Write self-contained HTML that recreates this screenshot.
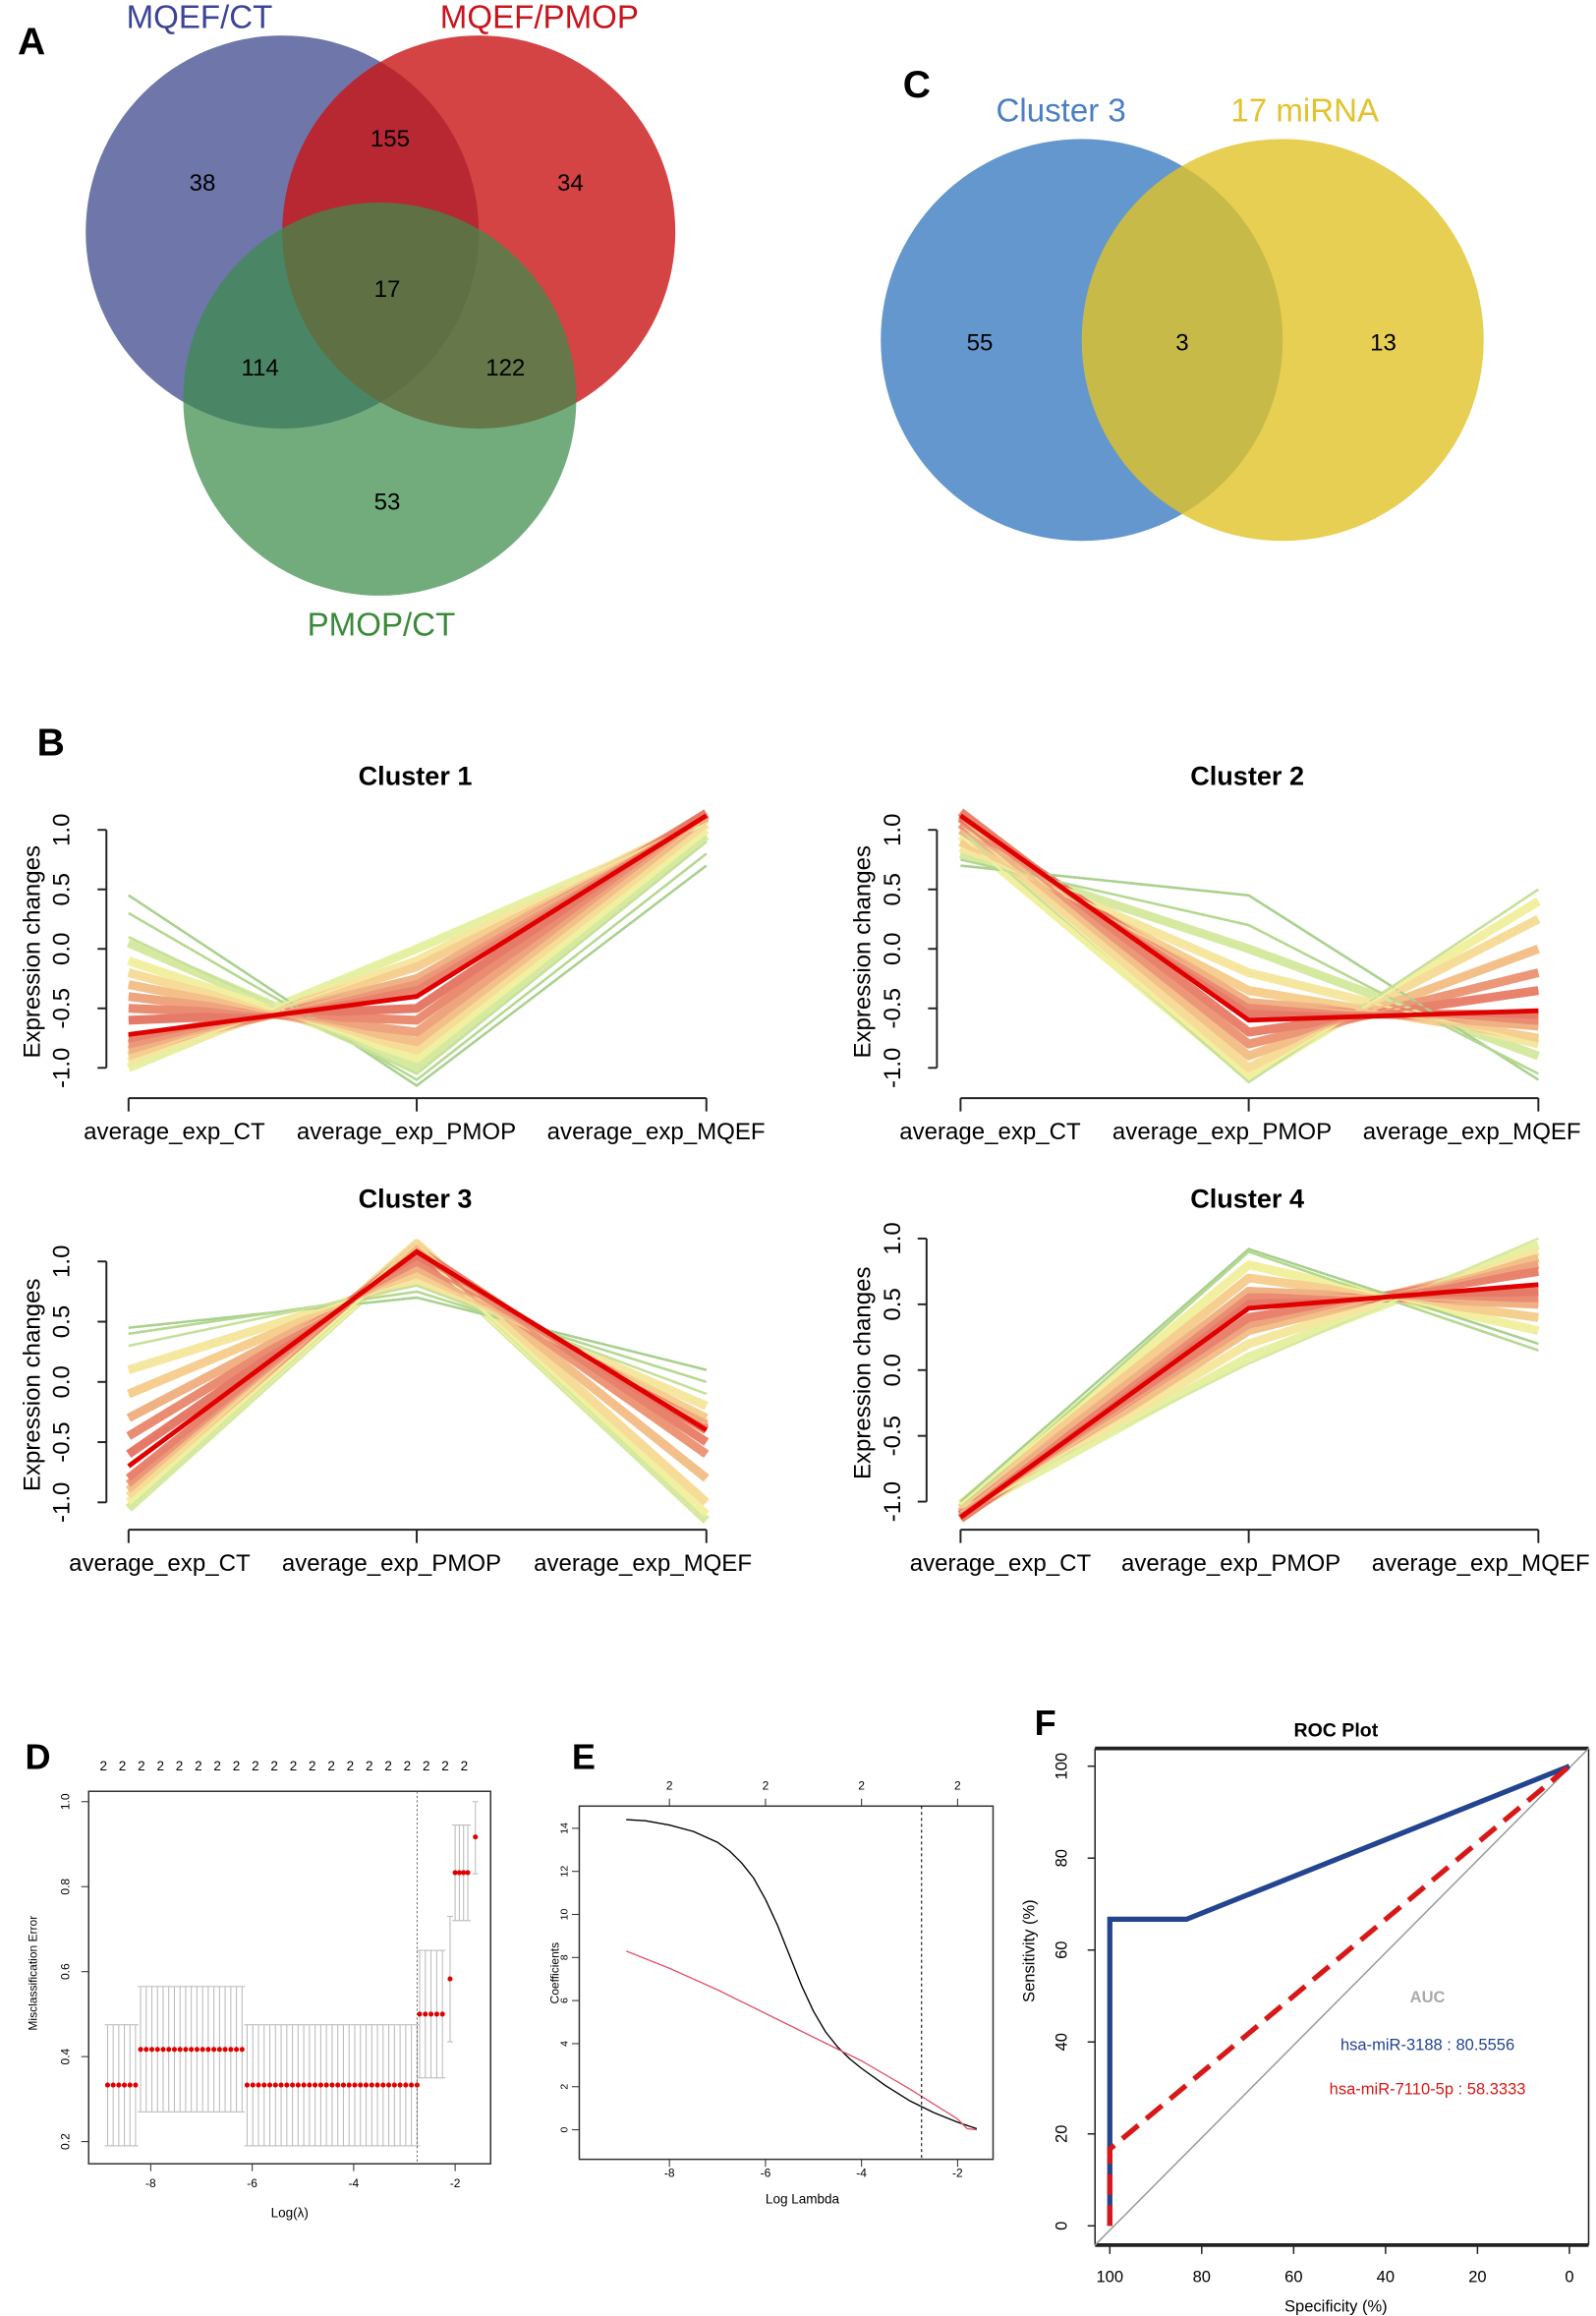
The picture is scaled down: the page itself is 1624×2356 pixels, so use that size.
<!DOCTYPE html>
<html><head><meta charset="utf-8"><style>
html,body{margin:0;padding:0;background:#fff;}
svg{display:block;font-family:"Liberation Sans",Arial,sans-serif;}
</style></head><body>
<svg id="fig" width="1624" height="2356" viewBox="0 0 1080 1567" preserveAspectRatio="none" xmlns="http://www.w3.org/2000/svg">
<rect width="1080" height="1567" fill="#fff"/>
<!-- Panel A -->
<g>
<text x="12" y="37" font-size="26" font-weight="bold">A</text>
<circle cx="191" cy="157" r="133" fill="#6f76aa"/>
<circle cx="324" cy="157" r="133" fill="rgb(201,21,21)" fill-opacity="0.8"/>
<circle cx="257" cy="270" r="133" fill="rgb(60,140,75)" fill-opacity="0.72"/>
<text x="135" y="19" font-size="22" fill="#3c4494" text-anchor="middle">MQEF/CT</text>
<text x="365" y="19" font-size="22" fill="#c8141c" text-anchor="middle">MQEF/PMOP</text>
<text x="258" y="430" font-size="22" fill="#3a8a3a" text-anchor="middle">PMOP/CT</text>
<g font-size="16" text-anchor="middle">
<text x="137" y="129">38</text><text x="264" y="99">155</text><text x="386" y="129">34</text>
<text x="262" y="201">17</text><text x="176" y="254">114</text><text x="342" y="254">122</text><text x="262" y="345">53</text>
</g></g>
<!-- Panel C -->
<g>
<text x="611" y="66" font-size="26" font-weight="bold">C</text>
<circle cx="732" cy="230" r="136" fill="#6497ce"/>
<circle cx="868" cy="230" r="136" fill="rgb(224,195,39)" fill-opacity="0.8"/>
<text x="718" y="82" font-size="22" fill="#4a7fc4" text-anchor="middle">Cluster 3</text>
<text x="883" y="82" font-size="22" fill="#e3c22e" text-anchor="middle">17 miRNA</text>
<g font-size="16" text-anchor="middle">
<text x="663" y="237">55</text><text x="800" y="237">3</text><text x="936" y="237">13</text>
</g></g>
<text x="25" y="511" font-size="26" font-weight="bold">B</text>
<g id="clusters"></g>
<!-- Panel D -->
<g id="pd">
<text x="17" y="1197" font-size="24" font-weight="bold">D</text>
<rect x="60" y="1212" width="272" height="252" fill="none" stroke="#333" stroke-width="1"/>
<text x="196" y="1500" font-size="9" text-anchor="middle">Log(λ)</text>
<text transform="translate(25,1335) rotate(-90)" font-size="8" text-anchor="middle">Misclassification Error</text>
</g>
<!-- Panel E -->
<g id="pe">
<text x="387" y="1197" font-size="24" font-weight="bold">E</text>
<rect x="392" y="1222" width="280" height="239" fill="none" stroke="#333" stroke-width="1"/>
<text x="543" y="1491" font-size="9" text-anchor="middle">Log Lambda</text>
<text transform="translate(378,1335) rotate(-90)" font-size="8" text-anchor="middle">Coefficients</text>
</g>
<!-- Panel F -->
<g id="pf">
<text x="700" y="1174" font-size="24" font-weight="bold">F</text>
<text x="904" y="1175" font-size="13" font-weight="bold" text-anchor="middle">ROC Plot</text>
<line x1="741" y1="1183" x2="1075" y2="1183" stroke="#222" stroke-width="2.5"/>
<line x1="741" y1="1519" x2="1075" y2="1519" stroke="#222" stroke-width="2.5"/>
<line x1="741" y1="1183" x2="741" y2="1519" stroke="#222" stroke-width="1"/>
<line x1="1075" y1="1183" x2="1075" y2="1519" stroke="#222" stroke-width="1"/>
<text x="904" y="1564" font-size="11" text-anchor="middle">Specificity (%)</text>
<text transform="translate(700,1320) rotate(-90)" font-size="11" text-anchor="middle">Sensitivity (%)</text>
<text x="966" y="1355" font-size="11" font-weight="bold" fill="#aaa" text-anchor="middle">AUC</text>
<text x="966" y="1387" font-size="11" fill="#23448f" text-anchor="middle">hsa-miR-3188 : 80.5556</text>
<text x="966" y="1417" font-size="11" fill="#d81818" text-anchor="middle">hsa-miR-7110-5p : 58.3333</text>
</g>
</svg>
<script>
var NS="http://www.w3.org/2000/svg";
// ===== Cluster data (values at CT, PMOP, MQEF); outer lines first =====
var c1Mean=[-0.72,-0.4,1.12];
var c1Lines=[[0.45,-1.15,0.7],[0.3,-1.1,0.8],[0.1,-1.05,0.9],[0.05,-1.0,0.95],[-1.0,0.0,1.05],[-0.1,-0.92,1.0],[-0.95,-0.1,1.1],[-0.2,-0.85,1.05],[-0.9,-0.15,1.1],[-0.3,-0.78,1.1],[-0.85,-0.25,1.12],[-0.4,-0.7,1.12],[-0.8,-0.3,1.13],[-0.5,-0.6,1.13],[-0.75,-0.35,1.14],[-0.6,-0.5,1.14]];
var c2Mean=[1.12,-0.6,-0.52];
var c2Lines=[[0.7,0.45,-1.1],[0.75,0.2,-1.05],[1.0,-1.12,0.5],[0.8,0.0,-0.9],[0.95,-1.08,0.4],[0.85,-0.2,-0.8],[1.05,-1.0,0.25],[0.9,-0.35,-0.75],[1.1,-0.9,0.0],[1.0,-0.45,-0.65],[1.12,-0.8,-0.2],[1.05,-0.5,-0.6],[1.15,-0.7,-0.35],[1.1,-0.55,-0.55]];
var c3Mean=[-0.7,1.08,-0.4];
var c3Lines=[[0.45,0.7,0.1],[0.4,0.75,0.0],[0.3,0.8,-0.1],[-1.05,1.1,-1.15],[-1.0,1.1,-1.1],[0.1,0.85,-0.2],[-0.95,1.15,-1.0],[-0.1,0.9,-0.3],[-0.9,1.12,-0.8],[-0.3,0.95,-0.35],[-0.85,1.1,-0.6],[-0.45,1.0,-0.38],[-0.8,1.1,-0.5],[-0.6,1.05,-0.4]];
var c4Mean=[-1.12,0.47,0.65];
var c4Lines=[[-1.0,0.92,0.2],[-1.05,0.9,0.15],[-1.05,0.05,1.0],[-1.1,0.1,0.95],[-1.02,0.8,0.3],[-1.1,0.2,0.9],[-1.05,0.7,0.4],[-1.12,0.3,0.85],[-1.08,0.6,0.5],[-1.12,0.35,0.8],[-1.1,0.55,0.55],[-1.13,0.4,0.75],[-1.1,0.5,0.6]];
var clusterCats=["average_exp_CT","average_exp_PMOP","average_exp_MQEF"];
var clusterYTicks=[-1.0,-0.5,0.0,0.5,1.0];
var clusterYTickLabels=["-1.0","-0.5","0.0","0.5","1.0"];
var palette=["#a9d18e","#b5d890","#c6e09a","#d6e9a0","#e6f0a2","#f1f0a0","#f5e6a0","#f6dc98","#f5ce90","#f3c08a","#f0b284","#eea47e","#ec9878","#ea8c72","#e8826c","#e67a68"];

function el(tag,attrs,parent){var e=document.createElementNS(NS,tag);for(var k in attrs)e.setAttribute(k,attrs[k]);(parent||document.getElementById('fig')).appendChild(e);return e;}

var panels=[
 {name:"cluster-1",title:"Cluster 1",tx:281,ty:531,xs:[87,282,478],ax:72,zero:642,per:80.5,xay:743,lx:[118,275,444],ly:771,ylx:47,ytx:27,lines:c1Lines,mean:c1Mean},
 {name:"cluster-2",title:"Cluster 2",tx:844,ty:531,xs:[650,845,1041],ax:634,zero:642,per:80.5,xay:743,lx:[670,827,996],ly:771,ylx:609,ytx:589,lines:c2Lines,mean:c2Mean},
 {name:"cluster-3",title:"Cluster 3",tx:281,ty:817,xs:[87,282,478],ax:72,zero:935,per:81.5,xay:1035,lx:[108,265,435],ly:1063,ylx:47,ytx:27,lines:c3Lines,mean:c3Mean},
 {name:"cluster-4",title:"Cluster 4",tx:844,ty:817,xs:[650,845,1041],ax:627,zero:927,per:89,xay:1035,lx:[677,833,1002],ly:1063,ylx:609,ytx:589,lines:c4Lines,mean:c4Mean}
];
var cg=document.getElementById('clusters');
panels.forEach(function(p){
 var g=el('g',{},cg);
 
 
 function yS(v){return p.zero-v*p.per;}
 var t=el('text',{x:p.tx,y:p.ty,'font-size':18,'font-weight':'bold','text-anchor':'middle'},g);t.textContent=p.title;
 
 
 // dense band: each member line widened
 p.lines.forEach(function(ln,i){
  var pts=ln.map(function(v,j){return p.xs[j]+","+yS(v);}).join(" ");
  var col=palette[Math.min(palette.length-1,Math.round(i*(palette.length-1)/(p.lines.length-1)))];
  var pl=el('polyline',{points:pts,fill:'none',stroke:col,'stroke-width':i<3?1.6:6,'stroke-linejoin':'round'},g);
  
  
 });
 p.lines.forEach(function(ln,i){
  var pts=ln.map(function(v,j){return p.xs[j]+","+yS(v);}).join(" ");
  var col=palette[Math.min(palette.length-1,Math.round(i*(palette.length-1)/(p.lines.length-1)))];
  var pl=el('polyline',{points:pts,fill:'none',stroke:col,'stroke-width':1.6},g);
  
  
 });
 var mp=p.mean.map(function(v,j){return p.xs[j]+","+yS(v);}).join(" ");
 var m=el('polyline',{points:mp,fill:'none',stroke:'#e00000','stroke-width':3.2},g);
 
 
 // y axis
 el('line',{x1:p.ax,y1:yS(1),x2:p.ax,y2:yS(-1),stroke:'#222','stroke-width':1.3},g);
 clusterYTicks.forEach(function(v,i){
  el('line',{x1:p.ax-6,y1:yS(v),x2:p.ax,y2:yS(v),stroke:'#222','stroke-width':1.3},g);
  var tl=el('text',{transform:'translate('+p.ylx+','+yS(v)+') rotate(-90)','font-size':16,'text-anchor':'middle'},g);tl.textContent=clusterYTickLabels[i];
  
  
 });
 var yt=el('text',{transform:'translate('+p.ytx+','+(yS(0)+2)+') rotate(-90)','font-size':16,'text-anchor':'middle'},g);yt.textContent="Expression changes";
 
 
 // x axis
 el('line',{x1:p.xs[0],y1:p.xay,x2:p.xs[2],y2:p.xay,stroke:'#222','stroke-width':1.3},g);
 p.xs.forEach(function(x,j){
  el('line',{x1:x,y1:p.xay,x2:x,y2:p.xay+9,stroke:'#222','stroke-width':1.3},g);
  var xl=el('text',{x:p.lx[j],y:p.ly,'font-size':16,'text-anchor':'middle'},g);xl.textContent=clusterCats[j];
  
  
 });
});

// ===== Panel D data: segments [logLambdaStart, logLambdaEnd, nPoints, error, lower, upper] =====
var dSegStart=[-8.85,-8.2,-6.1,-2.7,-2.1,-2.0,-1.6];
var dSegEnd=[-8.3,-6.2,-2.75,-2.25,-2.1,-1.75,-1.6];
var dSegCount=[6,19,31,5,1,4,1];
var dErr=[0.333,0.417,0.333,0.5,0.583,0.833,0.917];
var dLo=[0.19,0.27,0.19,0.35,0.435,0.72,0.83];
var dHi=[0.475,0.565,0.475,0.65,0.73,0.945,1.0];
var dXTicks=[-8,-6,-4,-2];
var dYTicks=[0.2,0.4,0.6,0.8,1.0];
var dYTickLabels=["0.2","0.4","0.6","0.8","1.0"];
var dMin=-2.75;
(function(){
 var g=document.getElementById('pd');
 function xS(v){return 102+(v+8)*34.33;}
 function yS(v){return 1449-(v-0.2)*287.5;}
 for(var s=0;s<dSegStart.length;s++){
  for(var k=0;k<dSegCount[s];k++){
   var lam=dSegCount[s]===1?dSegStart[s]:dSegStart[s]+(dSegEnd[s]-dSegStart[s])*k/(dSegCount[s]-1);
   var x=xS(lam);
   el('line',{x1:x,y1:yS(dLo[s]),x2:x,y2:yS(dHi[s]),stroke:'#bbb','stroke-width':0.7},g);
   el('line',{x1:x-2,y1:yS(dLo[s]),x2:x+2,y2:yS(dLo[s]),stroke:'#bbb','stroke-width':0.7},g);
   el('line',{x1:x-2,y1:yS(dHi[s]),x2:x+2,y2:yS(dHi[s]),stroke:'#bbb','stroke-width':0.7},g);
   var c=el('circle',{cx:x,cy:yS(dErr[s]),r:1.7,fill:'#e00000'},g);
   
   
  }
 }
 el('line',{x1:xS(dMin),y1:1212,x2:xS(dMin),y2:1464,stroke:'#555','stroke-width':0.6,'stroke-dasharray':'1.5,1.5'},g);
 dXTicks.forEach(function(v){
  el('line',{x1:xS(v),y1:1464,x2:xS(v),y2:1469,stroke:'#333','stroke-width':0.7},g);
  var t=el('text',{x:xS(v),y:1480,'font-size':8,'text-anchor':'middle'},g);t.textContent=String(v);
  
  
 });
 dYTicks.forEach(function(v,i){
  el('line',{x1:55,y1:yS(v),x2:60,y2:yS(v),stroke:'#333','stroke-width':0.7},g);
  var t=el('text',{transform:'translate(47,'+yS(v)+') rotate(-90)','font-size':8,'text-anchor':'middle'},g);t.textContent=dYTickLabels[i];
  
  
 });
 for(var i=0;i<20;i++){
  var t=el('text',{x:70+i*12.85,y:1198,'font-size':9,'text-anchor':'middle'},g);t.textContent="2";
  
  
 }
})();

// ===== Panel E data =====
var eBlackLam=[-8.9,-8.5,-8,-7.5,-7,-6.75,-6.5,-6.25,-6,-5.75,-5.5,-5.25,-5,-4.75,-4.5,-4.25,-4,-3.5,-3,-2.5,-2,-1.6];
var eBlackCoef=[14.4,14.35,14.15,13.85,13.35,12.95,12.4,11.7,10.7,9.5,8.1,6.7,5.5,4.55,3.85,3.3,2.85,2.05,1.35,0.8,0.35,0.05];
var eRedLam=[-8.9,-8,-7,-6,-5,-4,-3,-2.5,-2,-1.8,-1.6];
var eRedCoef=[8.3,7.5,6.5,5.4,4.3,3.2,1.9,1.2,0.5,0.05,0.0];
var eXTicks=[-8,-6,-4,-2];
var eYTicks=[0,2,4,6,8,10,12,14];
var eMin=-2.75;
(function(){
 var g=document.getElementById('pe');
 function xS(v){return 453+(v+8)*32.5;}
 function yS(v){return 1441-v*14.57;}
 function path(lx,ly){var d="";for(var i=0;i<lx.length;i++){d+=(i?"L":"M")+xS(lx[i])+","+yS(ly[i]);}return d;}
 var b=el('path',{d:path(eBlackLam,eBlackCoef),fill:'none',stroke:'#000','stroke-width':0.9,'stroke-linejoin':'round'},g);
 
 
 var r=el('path',{d:path(eRedLam,eRedCoef),fill:'none',stroke:'#df536b','stroke-width':0.9,'stroke-linejoin':'round'},g);
 
 
 el('line',{x1:xS(eMin),y1:1222,x2:xS(eMin),y2:1461,stroke:'#000','stroke-width':0.7,'stroke-dasharray':'2,2'},g);
 eXTicks.forEach(function(v){
  el('line',{x1:xS(v),y1:1461,x2:xS(v),y2:1466,stroke:'#333','stroke-width':0.7},g);
  el('line',{x1:xS(v),y1:1217,x2:xS(v),y2:1222,stroke:'#333','stroke-width':0.7},g);
  var t=el('text',{x:xS(v),y:1473,'font-size':8,'text-anchor':'middle'},g);t.textContent=String(v);
  
  
  var t2=el('text',{x:xS(v),y:1211,'font-size':8,'text-anchor':'middle'},g);t2.textContent="2";
  
  
 });
 eYTicks.forEach(function(v){
  el('line',{x1:387,y1:yS(v),x2:392,y2:yS(v),stroke:'#333','stroke-width':0.7},g);
  var t=el('text',{transform:'translate(384,'+yS(v)+') rotate(-90)','font-size':7,'text-anchor':'middle'},g);t.textContent=String(v);
  
  
 });
})();

// ===== Panel F data =====
var rocBlueSpec=[100,100,83.3,0];
var rocBlueSens=[0,66.7,66.7,100];
var rocRedSpec=[100,100,0];
var rocRedSens=[0,16.7,100];
var fTicks=[0,20,40,60,80,100];
(function(){
 var g=document.getElementById('pf');
 function xS(v){return 1062-v*3.11;}
 function yS(v){return 1506-v*3.11;}
 el('line',{x1:741,y1:1519,x2:1075,y2:1183,stroke:'#999','stroke-width':1},g);
 function pts(a,b){return a.map(function(v,i){return xS(v)+","+yS(b[i]);}).join(" ");}
 var bl=el('polyline',{points:pts(rocBlueSpec,rocBlueSens),fill:'none',stroke:'#23448f','stroke-width':3.5},g);
 
 
 var rd=el('polyline',{points:pts(rocRedSpec,rocRedSens),fill:'none',stroke:'#d81818','stroke-width':3.5,'stroke-dasharray':'14,7'},g);
 
 
 fTicks.forEach(function(v){
  el('line',{x1:736,y1:yS(v),x2:741,y2:yS(v),stroke:'#222','stroke-width':1},g);
  var t=el('text',{transform:'translate(722,'+yS(v)+') rotate(-90)','font-size':11,'text-anchor':'middle'},g);t.textContent=String(v);
  
  
  el('line',{x1:xS(v),y1:1519,x2:xS(v),y2:1525,stroke:'#222','stroke-width':1},g);
  var t2=el('text',{x:xS(v),y:1544,'font-size':11,'text-anchor':'middle'},g);t2.textContent=String(v);
  
  
 });
})();
</script>
</body></html>
